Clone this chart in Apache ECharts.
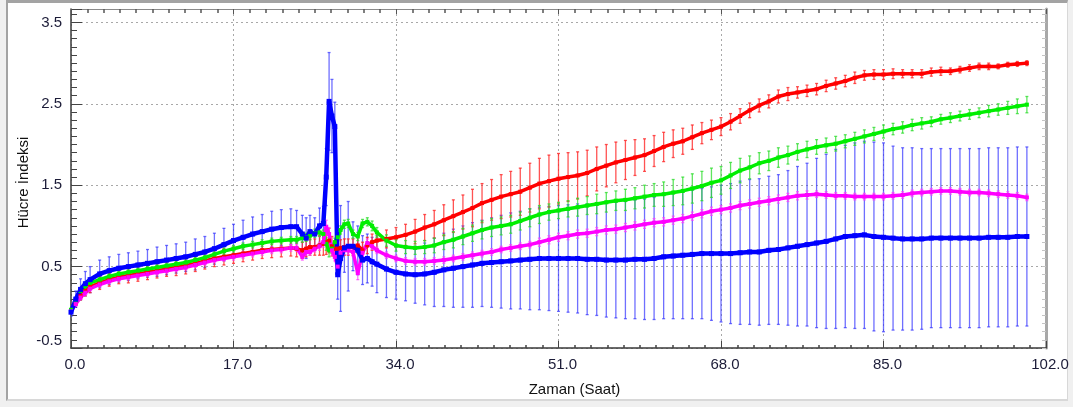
<!DOCTYPE html>
<html>
<head>
<meta charset="utf-8">
<title>Hücre İndeksi</title>
<script src="https://cdn.jsdelivr.net/npm/echarts@6/dist/echarts.min.js"></script>
<style>
    body { margin: 0; background: #f0f0f0; }
    #frame {
        position: absolute; left: 6px; top: 0; width: 1059px; height: 396px;
        background: #fff;
        border-top: 3px solid #a3a3a3; border-left: 2px solid #a3a3a3;
        border-right: 1px solid #d8d8d8; border-bottom: 2px solid #d8d8d8;
    }
    #chart { position: absolute; left: 0; top: 0; width: 1073px; height: 407px; }
</style>
</head>
<body>
<div id="frame"></div>
<div id="chart"></div>
<script>
// zaman (saat)
var hours = [0, 0.5, 1, 1.5, 2, 3, 4, 5, 6, 7, 8, 9, 10, 11, 12, 13, 14, 15, 16, 17, 18, 19, 20, 21, 22, 23,
    23.6, 24.2, 24.6, 25, 25.5, 26, 26.4, 26.7, 27, 27.3, 27.6, 27.9, 28.2, 28.6, 29, 29.5, 30, 30.5, 31, 31.5,
    32, 33, 34, 35, 36, 37, 38, 39, 40, 41,
    42, 43, 44, 45, 46, 47, 48, 49, 50, 51,
    52, 53, 54, 55, 56, 57, 58, 59, 60, 61,
    62, 63, 64, 65, 66, 67, 68, 69, 70, 71,
    72, 73, 74, 75, 76, 77, 78, 79, 80, 81,
    82, 83, 84, 85, 86, 87, 88, 89, 90, 91,
    92, 93, 94, 95, 96, 97, 98, 99, 100];

// mavi
var blueMean = [-0.06, 0.10, 0.22, 0.29, 0.34, 0.41, 0.45, 0.48, 0.50, 0.52, 0.54, 0.56, 0.58, 0.60, 0.62, 0.65, 0.68, 0.72, 0.77, 0.82, 0.86, 0.90, 0.93, 0.96, 0.98, 0.99,
    0.99, 0.90, 0.85, 0.93, 0.90, 1.00, 1.03, 1.60, 2.53, 2.35, 2.22, 0.40, 0.60, 0.73, 0.75, 0.75, 0.70, 0.58, 0.60, 0.56,
    0.53, 0.47, 0.43, 0.41, 0.40, 0.41, 0.43, 0.46, 0.48, 0.50,
    0.52, 0.54, 0.55, 0.56, 0.57, 0.58, 0.59, 0.60, 0.60, 0.60,
    0.60, 0.60, 0.59, 0.59, 0.58, 0.58, 0.58, 0.59, 0.59, 0.60,
    0.62, 0.63, 0.64, 0.65, 0.66, 0.66, 0.66, 0.66, 0.67, 0.68,
    0.68, 0.70, 0.71, 0.73, 0.75, 0.77, 0.79, 0.81, 0.84, 0.87,
    0.88, 0.89, 0.87, 0.86, 0.85, 0.84, 0.84, 0.84, 0.85, 0.85,
    0.85, 0.85, 0.85, 0.85, 0.86, 0.86, 0.86, 0.87, 0.87];
var blueSd = [0.05, 0.10, 0.13, 0.15, 0.16, 0.17, 0.17, 0.17, 0.17, 0.17, 0.17, 0.18, 0.18, 0.18, 0.18, 0.19, 0.19, 0.19, 0.20, 0.20, 0.21, 0.21, 0.21, 0.22, 0.22, 0.22,
    0.20, 0.23, 0.25, 0.20, 0.20, 0.22, 0.21, 0.35, 0.60, 0.45, 0.30, 0.30, 0.65, 0.30, 0.55, 0.30, 0.30, 0.30, 0.30, 0.30,
    0.35, 0.35, 0.33, 0.33, 0.35, 0.38, 0.42, 0.45, 0.48, 0.50,
    0.52, 0.53, 0.55, 0.57, 0.59, 0.60, 0.62, 0.63, 0.64, 0.65,
    0.66, 0.67, 0.68, 0.69, 0.70, 0.71, 0.72, 0.73, 0.74, 0.75,
    0.76, 0.77, 0.78, 0.79, 0.80, 0.82, 0.84, 0.86, 0.88, 0.89,
    0.90, 0.91, 0.92, 0.95, 0.98, 1.00, 1.04, 1.07, 1.10, 1.12,
    1.14, 1.15, 1.16, 1.16, 1.13, 1.12, 1.12, 1.11, 1.10, 1.10,
    1.10, 1.10, 1.10, 1.10, 1.10, 1.10, 1.10, 1.10, 1.10];

// yeşil
var greenMean = [-0.03, 0.08, 0.20, 0.26, 0.30, 0.34, 0.38, 0.41, 0.43, 0.45, 0.47, 0.49, 0.51, 0.53, 0.55, 0.58, 0.61, 0.65, 0.69, 0.72, 0.75, 0.77, 0.79, 0.81, 0.82, 0.83,
    0.83, 0.85, 0.86, 0.88, 0.91, 0.92, 0.90, 0.78, 0.70, 0.72, 0.80, 0.86, 0.95, 1.02, 1.03, 0.90, 0.87, 1.03, 1.05, 1.00,
    0.92, 0.82, 0.76, 0.74, 0.73, 0.74, 0.76, 0.80, 0.83, 0.87,
    0.91, 0.95, 0.98, 1.00, 1.02, 1.06, 1.10, 1.14, 1.17, 1.19,
    1.21, 1.23, 1.25, 1.27, 1.29, 1.31, 1.32, 1.34, 1.36, 1.38,
    1.39, 1.41, 1.43, 1.46, 1.49, 1.53, 1.56, 1.62, 1.68, 1.72,
    1.77, 1.80, 1.84, 1.87, 1.91, 1.94, 1.97, 1.99, 2.01, 2.04,
    2.07, 2.10, 2.13, 2.16, 2.19, 2.21, 2.24, 2.26, 2.28, 2.31,
    2.33, 2.35, 2.37, 2.39, 2.41, 2.43, 2.45, 2.47, 2.49];
var greenSd = [0.01, 0.02, 0.03, 0.03, 0.03, 0.03, 0.03, 0.03, 0.03, 0.03, 0.03, 0.03, 0.03, 0.03, 0.03, 0.03, 0.03, 0.03, 0.04, 0.04, 0.04, 0.04, 0.04, 0.04, 0.04, 0.04,
    0.04, 0.05, 0.05, 0.05, 0.05, 0.05, 0.05, 0.08, 0.08, 0.06, 0.05, 0.05, 0.05, 0.05, 0.05, 0.05, 0.05, 0.05, 0.05, 0.06,
    0.06, 0.07, 0.07, 0.08, 0.08, 0.08, 0.09, 0.09, 0.10, 0.10,
    0.10, 0.11, 0.11, 0.11, 0.11, 0.11, 0.11, 0.11, 0.10, 0.10,
    0.10, 0.11, 0.11, 0.12, 0.12, 0.12, 0.13, 0.13, 0.14, 0.14,
    0.15, 0.16, 0.17, 0.18, 0.18, 0.18, 0.17, 0.16, 0.15, 0.14,
    0.13, 0.12, 0.12, 0.11, 0.10, 0.10, 0.09, 0.09, 0.09, 0.08,
    0.08, 0.08, 0.08, 0.08, 0.07, 0.07, 0.07, 0.07, 0.06, 0.06,
    0.06, 0.06, 0.06, 0.06, 0.07, 0.07, 0.08, 0.09, 0.10];

// kırmızı
var redMean = [-0.04, 0.05, 0.14, 0.20, 0.25, 0.30, 0.34, 0.37, 0.39, 0.41, 0.43, 0.45, 0.47, 0.49, 0.51, 0.54, 0.57, 0.60, 0.62, 0.64, 0.66, 0.68, 0.70, 0.71, 0.72, 0.73,
    0.72, 0.70, 0.72, 0.74, 0.74, 0.76, 0.78, 0.80, 0.82, 0.75, 0.72, 0.72, 0.73, 0.74, 0.74, 0.74, 0.76, 0.70, 0.76, 0.80,
    0.82, 0.84, 0.86, 0.89, 0.93, 0.98, 1.02, 1.07, 1.12, 1.17,
    1.22, 1.28, 1.32, 1.36, 1.39, 1.42, 1.47, 1.52, 1.55, 1.58,
    1.60, 1.62, 1.65, 1.70, 1.74, 1.78, 1.81, 1.84, 1.87, 1.92,
    1.97, 2.01, 2.04, 2.09, 2.14, 2.18, 2.22, 2.28, 2.35, 2.42,
    2.48, 2.53, 2.59, 2.62, 2.64, 2.66, 2.68, 2.72, 2.75, 2.78,
    2.82, 2.85, 2.86, 2.86, 2.87, 2.87, 2.87, 2.87, 2.89, 2.90,
    2.90, 2.92, 2.94, 2.96, 2.96, 2.96, 2.98, 2.99, 3.00];
var redSd = [0.01, 0.03, 0.05, 0.06, 0.07, 0.08, 0.08, 0.08, 0.09, 0.09, 0.09, 0.09, 0.09, 0.10, 0.10, 0.10, 0.10, 0.10, 0.10, 0.10, 0.10, 0.10, 0.10, 0.10, 0.10, 0.10,
    0.10, 0.10, 0.10, 0.10, 0.10, 0.12, 0.14, 0.15, 0.15, 0.12, 0.10, 0.10, 0.10, 0.10, 0.10, 0.10, 0.10, 0.10, 0.10, 0.10,
    0.10, 0.11, 0.12, 0.13, 0.15, 0.16, 0.17, 0.19, 0.20, 0.21,
    0.23, 0.24, 0.25, 0.27, 0.28, 0.29, 0.30, 0.31, 0.32, 0.31,
    0.30, 0.29, 0.28, 0.27, 0.26, 0.25, 0.24, 0.22, 0.20, 0.19,
    0.18, 0.17, 0.16, 0.15, 0.13, 0.12, 0.11, 0.10, 0.09, 0.09,
    0.08, 0.08, 0.08, 0.08, 0.07, 0.07, 0.07, 0.07, 0.07, 0.07,
    0.07, 0.06, 0.06, 0.06, 0.06, 0.05, 0.05, 0.05, 0.05, 0.05,
    0.04, 0.04, 0.04, 0.04, 0.04, 0.03, 0.03, 0.03, 0.03];

// pembe
var pinkMean = [-0.05, 0.04, 0.12, 0.18, 0.23, 0.28, 0.32, 0.35, 0.37, 0.39, 0.41, 0.43, 0.45, 0.47, 0.49, 0.52, 0.55, 0.58, 0.60, 0.62, 0.64, 0.66, 0.68, 0.70, 0.71, 0.73,
    0.73, 0.62, 0.68, 0.68, 0.72, 0.75, 0.80, 0.99, 0.90, 0.70, 0.62, 0.50, 0.67, 0.70, 0.70, 0.68, 0.42, 0.67, 0.79, 0.75,
    0.70, 0.64, 0.60, 0.57, 0.56, 0.56, 0.57, 0.58, 0.60, 0.62,
    0.64, 0.66, 0.68, 0.71, 0.73, 0.75, 0.77, 0.80, 0.83, 0.86,
    0.88, 0.90, 0.91, 0.93, 0.95, 0.96, 0.98, 1.00, 1.02, 1.04,
    1.05, 1.07, 1.09, 1.12, 1.15, 1.18, 1.20, 1.22, 1.25, 1.27,
    1.29, 1.31, 1.33, 1.35, 1.37, 1.38, 1.39, 1.38, 1.37, 1.37,
    1.36, 1.36, 1.36, 1.36, 1.37, 1.38, 1.40, 1.41, 1.42, 1.43,
    1.43, 1.42, 1.41, 1.41, 1.40, 1.39, 1.38, 1.37, 1.35];
var pinkSd = [0.01, 0.02, 0.02, 0.03, 0.03, 0.03, 0.03, 0.03, 0.03, 0.03, 0.03, 0.03, 0.03, 0.03, 0.03, 0.03, 0.03, 0.03, 0.03, 0.04, 0.04, 0.04, 0.04, 0.04, 0.04, 0.04,
    0.04, 0.04, 0.04, 0.04, 0.04, 0.05, 0.06, 0.08, 0.08, 0.06, 0.05, 0.06, 0.05, 0.05, 0.05, 0.05, 0.08, 0.05, 0.05, 0.04,
    0.04, 0.04, 0.04, 0.04, 0.04, 0.04, 0.04, 0.04, 0.04, 0.04,
    0.04, 0.04, 0.04, 0.04, 0.04, 0.04, 0.04, 0.05, 0.05, 0.05,
    0.05, 0.05, 0.05, 0.05, 0.05, 0.05, 0.05, 0.05, 0.05, 0.05,
    0.05, 0.05, 0.05, 0.05, 0.05, 0.05, 0.05, 0.05, 0.05, 0.05,
    0.05, 0.05, 0.05, 0.05, 0.05, 0.05, 0.04, 0.04, 0.04, 0.04,
    0.04, 0.04, 0.04, 0.04, 0.04, 0.04, 0.04, 0.04, 0.04, 0.04,
    0.04, 0.04, 0.04, 0.04, 0.04, 0.04, 0.04, 0.04, 0.04];

var xTicks = [0, 17, 34, 51, 68, 85, 102];
var yTicks = [-0.5, 0.5, 1.5, 2.5, 3.5];

var FONT = '"Liberation Sans", Arial, sans-serif';

/**
 * hata çubukları (ortalama ± SD)
 */
function errorBars(name, color, means, sds) {
    var rows = hours.map(function (t, i) {
        return [t, means[i] - sds[i], means[i] + sds[i]];
    });
    return {
        name: name,
        type: 'custom',
        data: rows,
        encode: { x: 0, y: [1, 2] },
        silent: true,
        clip: true,
        z: 1,
        renderItem: function (params, api) {
            var lo = api.coord([api.value(0), api.value(1)]);
            var hi = api.coord([api.value(0), api.value(2)]);
            var style = { stroke: color, lineWidth: 1.3 };
            return {
                type: 'group',
                children: [
                    { type: 'line', shape: { x1: lo[0], y1: lo[1], x2: hi[0], y2: hi[1] }, style: style },
                    { type: 'line', shape: { x1: lo[0] - 1.5, y1: lo[1], x2: lo[0] + 1.5, y2: lo[1] }, style: style },
                    { type: 'line', shape: { x1: hi[0] - 1.5, y1: hi[1], x2: hi[0] + 1.5, y2: hi[1] }, style: style }
                ]
            };
        }
    };
}

function meanLine(name, color, means, width, size) {
    return {
        name: name,
        type: 'line',
        data: hours.map(function (t, i) { return [t, means[i]]; }),
        symbol: 'rect',
        symbolSize: size,
        lineStyle: { color: color, width: width },
        itemStyle: { color: color },
        silent: true,
        z: 5
    };
}

var chart = echarts.init(document.getElementById('chart'), null, { renderer: 'canvas' });

var tickLabel = function (v) { return v.toFixed(1); };

var option = {
    animation: false,
    backgroundColor: 'transparent',
    textStyle: { fontFamily: FONT },
    grid: { left: 71, right: 27, top: 9, bottom: 59, containLabel: false, outerBoundsMode: 'none' },
    xAxis: [{
        type: 'value',
        min: xTicks[0],
        max: xTicks[xTicks.length - 1],
        interval: xTicks[1] - xTicks[0],
        name: 'Zaman (Saat)',
        nameLocation: 'middle',
        nameGap: 34,
        nameMoveOverlap: false,
        nameTextStyle: { fontSize: 15, color: '#111', fontFamily: FONT, padding: [0, 0, 0, 32] },
        axisLine: { onZero: false, lineStyle: { color: '#3a3a3a', width: 1.5 } },
        axisTick: { inside: true, length: 7, lineStyle: { color: '#444' } },
        minorTick: { show: true, splitNumber: 10, length: 3, lineStyle: { color: '#444', width: 1.5 } },
        axisLabel: { formatter: tickLabel, fontSize: 15, color: '#1c1c38', margin: 9, fontFamily: FONT, padding: [0, 0, 0, 8] },
        splitLine: { show: true, lineStyle: { type: [2, 3], color: '#a8a8a8' } }
    }, {
        type: 'value',
        position: 'top',
        min: xTicks[0],
        max: xTicks[xTicks.length - 1],
        interval: xTicks[1] - xTicks[0],
        axisLine: { onZero: false, lineStyle: { color: '#8a8a8a', width: 1 } },
        axisTick: { inside: true, length: 5, lineStyle: { color: '#555' } },
        minorTick: { show: true, splitNumber: 10, length: 4, lineStyle: { color: '#555', width: 1.5 } },
        axisLabel: { show: false },
        splitLine: { show: false }
    }],
    yAxis: [{
        type: 'value',
        min: yTicks[0],
        max: 3.665,
        interval: yTicks[1] - yTicks[0],
        name: 'Hücre İndeksi',
        nameLocation: 'middle',
        nameGap: 40,
        nameMoveOverlap: false,
        nameTextStyle: { fontSize: 15, color: '#111', fontFamily: FONT, padding: [0, 8, 0, 0] },
        axisLine: { onZero: false, lineStyle: { color: '#3a3a3a', width: 1.5 } },
        axisTick: { inside: true, length: 11, lineStyle: { color: '#444' } },
        minorTick: { show: true, splitNumber: 10, length: 6, lineStyle: { color: '#444' } },
        axisLabel: {
            formatter: tickLabel, fontSize: 15, color: '#1c1c38', margin: 9, fontFamily: FONT,
            showMaxLabel: false, verticalAlignMinLabel: 'bottom'
        },
        splitLine: { show: true, lineStyle: { type: [2, 3], color: '#a8a8a8' } }
    }, {
        type: 'value',
        position: 'right',
        min: yTicks[0],
        max: 3.665,
        interval: yTicks[1] - yTicks[0],
        axisLine: { onZero: false, lineStyle: { color: '#a8a8a8', width: 3 } },
        axisTick: { inside: true, length: 4, lineStyle: { color: '#c4c4c4' } },
        minorTick: { show: true, splitNumber: 10, length: 4, lineStyle: { color: '#c4c4c4' } },
        axisLabel: { show: false },
        splitLine: { show: false }
    }],
    series: [
        errorBars('blueErr', 'rgba(50,50,255,0.7)', blueMean, blueSd),
        errorBars('redErr', 'rgba(255,40,40,0.8)', redMean, redSd),
        errorBars('greenErr', 'rgba(40,220,40,0.75)', greenMean, greenSd),
        errorBars('pinkErr', 'rgba(255,60,255,0.7)', pinkMean, pinkSd),
        meanLine('red', '#ff0000', redMean, 3.5, 4),
        meanLine('green', '#00ee00', greenMean, 3.5, 4),
        meanLine('pink', '#ff00ff', pinkMean, 3.5, 4),
        meanLine('blue', '#0000ff', blueMean, 4.5, 5)
    ]
};

chart.setOption(option);
</script>
</body>
</html>
